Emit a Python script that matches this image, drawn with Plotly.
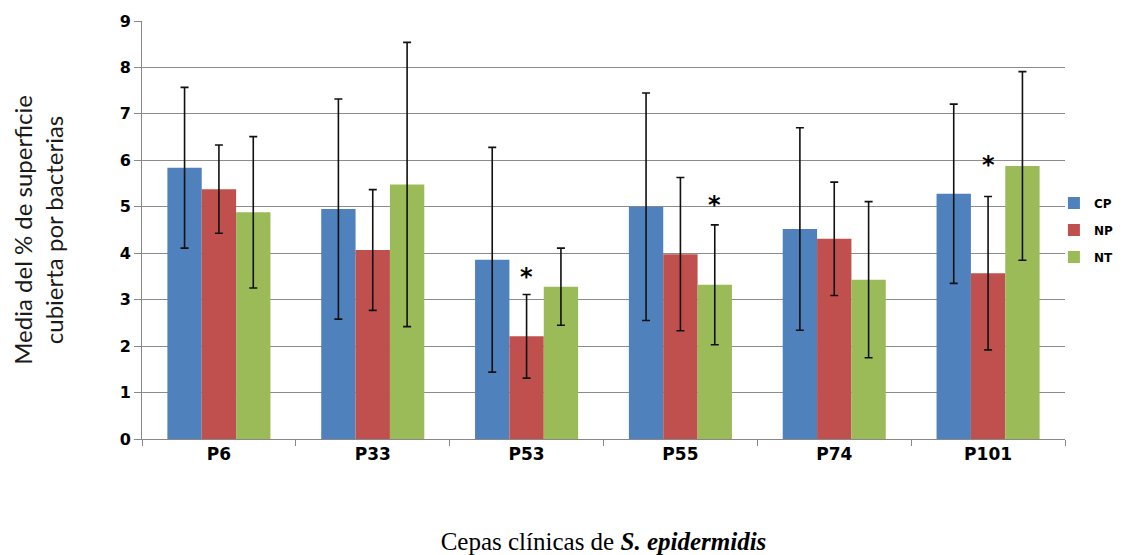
import plotly.graph_objects as go

categories = ["P6", "P33", "P53", "P55", "P74", "P101"]
series_names = ["CP", "NP", "NT"]
cp_mean = [5.84, 4.95, 3.86, 5.00, 4.52, 5.28]
cp_err = [1.73, 2.37, 2.42, 2.45, 2.18, 1.93]
np_mean = [5.38, 4.07, 2.21, 3.98, 4.31, 3.57]
np_err = [0.95, 1.30, 0.90, 1.65, 1.22, 1.65]
nt_mean = [4.88, 5.48, 3.28, 3.32, 3.43, 5.88]
nt_err = [1.63, 3.06, 0.83, 1.29, 1.68, 2.03]
colors = ["#4F81BD", "#C0504D", "#9BBB59"]

star_cats = ["P53", "P55", "P101"]
star_series = [1, 2, 1]
star_y = [3.53, 5.09, 5.95]

means = [cp_mean, np_mean, nt_mean]
errs = [cp_err, np_err, nt_err]

bargap = 0.33
fig = go.Figure()
for name, m, e, c in zip(series_names, means, errs, colors):
    fig.add_trace(go.Bar(
        x=categories, y=m, name="<b>" + name + "</b>", legendgroup=name,
        marker_color=c, marker_line_width=0,
        error_y=dict(type="data", array=e, visible=True, color="#111111",
                     thickness=1.6, width=4),
    ))

bw = (1 - bargap) / len(series_names)
for cat, s, yv in zip(star_cats, star_series, star_y):
    xi = categories.index(cat) + (s - 1) * bw
    fig.add_annotation(x=xi, y=yv, text="<b>*</b>", showarrow=False,
                       font=dict(family="DejaVu Sans", size=24, color="#000"),
                       xanchor="center", yanchor="middle", yshift=-2)

fig.update_layout(
    width=1116, height=547,
    margin=dict(l=134, r=59, t=13, b=116, autoexpand=False),
    paper_bgcolor="white", plot_bgcolor="white",
    barmode="group", bargap=bargap, bargroupgap=0,
    showlegend=True,
    legend=dict(x=0.988, y=0.5, xanchor="left", yanchor="middle",
                font=dict(family="DejaVu Sans", size=12, color="#000"),
                itemwidth=30, tracegroupgap=8, bgcolor="rgba(0,0,0,0)"),
    xaxis=dict(
        automargin=False,
        tickson="boundaries", ticks="outside", ticklen=6, tickcolor="#888",
        showline=True, linecolor="#888", linewidth=1,
        tickfont=dict(family="DejaVu Sans", size=17, color="#000"),
        tickprefix="<b>", ticksuffix="</b>",
        title=dict(text="Cepas clínicas de <b><i>S. epidermidis</i></b>",
                   font=dict(family="Liberation Serif", size=25, color="#000"),
                   standoff=70),
    ),
    yaxis=dict(
        automargin=False,
        range=[0, 9], dtick=1, ticks="outside", ticklen=7, tickcolor="#888",
        showgrid=True, gridcolor="#8c8c8c", gridwidth=1,
        showline=True, linecolor="#888", linewidth=1, zeroline=False,
        tickfont=dict(family="DejaVu Sans", size=16, color="#000"),
        tickprefix="<b>", ticksuffix="</b>",
        title=dict(text="Media del % de superficie<br>cubierta por bacterias",
                   font=dict(family="Lato", size=24, color="#1a1a1a"),
                   standoff=50),
    ),
)
fig.write_html("out.html")
